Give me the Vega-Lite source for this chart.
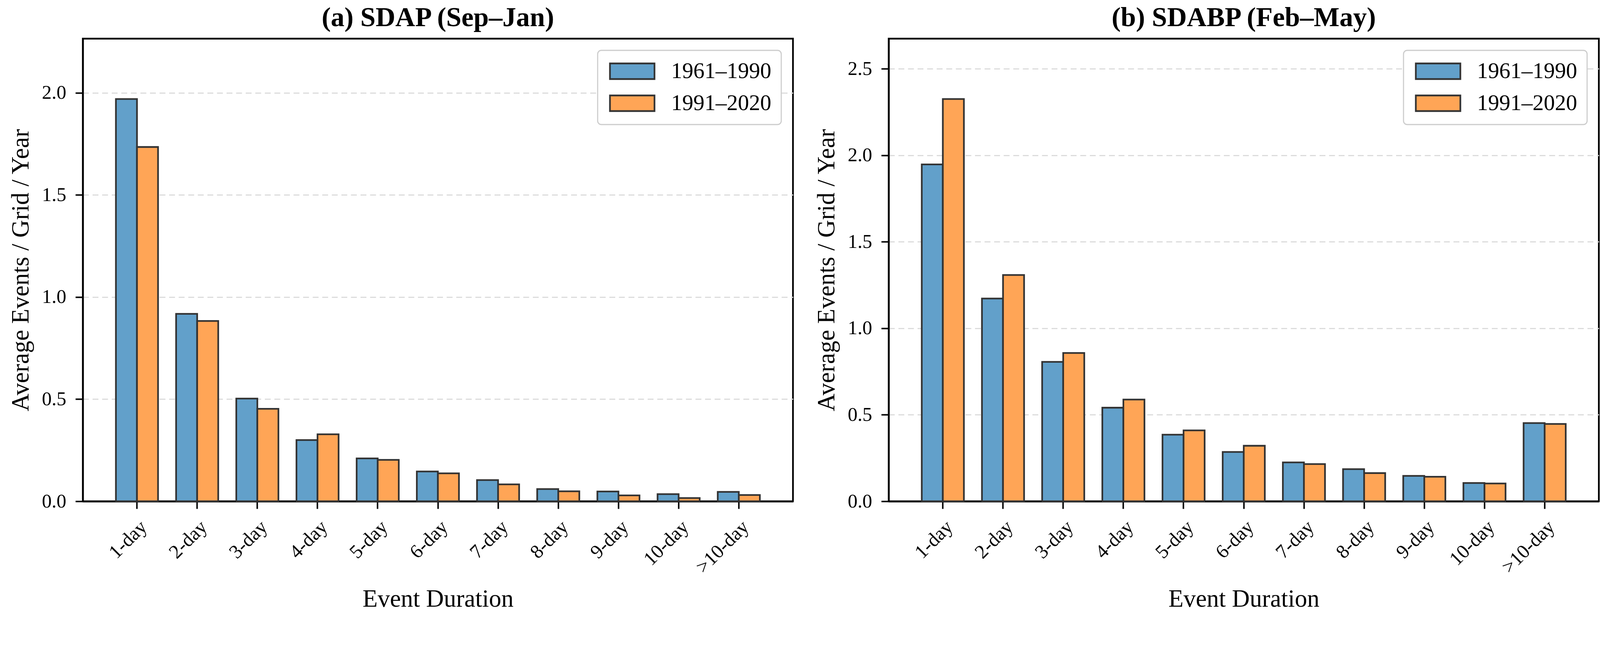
{
  "$schema": "https://vega.github.io/schema/vega-lite/v6.json",
  "padding": {"left": 20, "top": 8, "right": 13, "bottom": 10},
  "background": "white",
  "datasets": {
    "sdap": [
      {"duration": "1-day", "period": "1961–1990", "value": 1.970},
      {"duration": "1-day", "period": "1991–2020", "value": 1.735},
      {"duration": "2-day", "period": "1961–1990", "value": 0.918},
      {"duration": "2-day", "period": "1991–2020", "value": 0.883},
      {"duration": "3-day", "period": "1961–1990", "value": 0.503},
      {"duration": "3-day", "period": "1991–2020", "value": 0.453},
      {"duration": "4-day", "period": "1961–1990", "value": 0.300},
      {"duration": "4-day", "period": "1991–2020", "value": 0.328},
      {"duration": "5-day", "period": "1961–1990", "value": 0.210},
      {"duration": "5-day", "period": "1991–2020", "value": 0.203},
      {"duration": "6-day", "period": "1961–1990", "value": 0.146},
      {"duration": "6-day", "period": "1991–2020", "value": 0.137},
      {"duration": "7-day", "period": "1961–1990", "value": 0.104},
      {"duration": "7-day", "period": "1991–2020", "value": 0.083},
      {"duration": "8-day", "period": "1961–1990", "value": 0.060},
      {"duration": "8-day", "period": "1991–2020", "value": 0.049},
      {"duration": "9-day", "period": "1961–1990", "value": 0.048},
      {"duration": "9-day", "period": "1991–2020", "value": 0.029},
      {"duration": "10-day", "period": "1961–1990", "value": 0.035},
      {"duration": "10-day", "period": "1991–2020", "value": 0.016},
      {"duration": ">10-day", "period": "1961–1990", "value": 0.046},
      {"duration": ">10-day", "period": "1991–2020", "value": 0.031}
    ],
    "sdabp": [
      {"duration": "1-day", "period": "1961–1990", "value": 1.947},
      {"duration": "1-day", "period": "1991–2020", "value": 2.325},
      {"duration": "2-day", "period": "1961–1990", "value": 1.172},
      {"duration": "2-day", "period": "1991–2020", "value": 1.308},
      {"duration": "3-day", "period": "1961–1990", "value": 0.806},
      {"duration": "3-day", "period": "1991–2020", "value": 0.857},
      {"duration": "4-day", "period": "1961–1990", "value": 0.541},
      {"duration": "4-day", "period": "1991–2020", "value": 0.588},
      {"duration": "5-day", "period": "1961–1990", "value": 0.385},
      {"duration": "5-day", "period": "1991–2020", "value": 0.410},
      {"duration": "6-day", "period": "1961–1990", "value": 0.285},
      {"duration": "6-day", "period": "1991–2020", "value": 0.321},
      {"duration": "7-day", "period": "1961–1990", "value": 0.225},
      {"duration": "7-day", "period": "1991–2020", "value": 0.215},
      {"duration": "8-day", "period": "1961–1990", "value": 0.186},
      {"duration": "8-day", "period": "1991–2020", "value": 0.163},
      {"duration": "9-day", "period": "1961–1990", "value": 0.147},
      {"duration": "9-day", "period": "1991–2020", "value": 0.142},
      {"duration": "10-day", "period": "1961–1990", "value": 0.106},
      {"duration": "10-day", "period": "1991–2020", "value": 0.103},
      {"duration": ">10-day", "period": "1961–1990", "value": 0.452},
      {"duration": ">10-day", "period": "1991–2020", "value": 0.447}
    ]
  },
  "spacing": 50,
  "config": {
    "font": "Liberation Serif",
    "view": {"stroke": "black", "strokeWidth": 4.3},
    "title": {"font": "Liberation Serif", "fontSize": 70, "fontWeight": "bold", "color": "black", "offset": 17, "anchor": "middle"},
    "axis": {
      "labelFont": "Liberation Serif", "labelFontSize": 50, "labelColor": "black", "labelLimit": 0,
      "titleFont": "Liberation Serif", "titleFontSize": 63, "titleFontWeight": "normal", "titleColor": "black",
      "tickColor": "black", "tickSize": 19, "tickWidth": 3.8,
      "domainColor": "black", "domainWidth": 4.3
    },
    "axisX": {"grid": false, "labelAngle": -45, "labelPadding": 21, "titlePadding": 25.6},
    "axisY": {"grid": true, "gridDash": [15, 9.5], "gridColor": "#dcdcdc", "gridWidth": 2.8, "labelPadding": 23.7, "titlePadding": 21},
    "legend": {
      "labelFont": "Liberation Serif", "labelFontSize": 57, "labelColor": "black", "labelLimit": 0,
      "symbolType": "M-2.85,-1L2.85,-1L2.85,1L-2.85,1Z", "symbolSize": 1600,
      "symbolOffset": 35, "labelOffset": 71,
      "symbolStrokeColor": "#333333", "symbolStrokeWidth": 4.3,
      "strokeColor": "#cccccc", "strokeWidth": 2.8, "fillColor": "white", "cornerRadius": 9.5,
      "padding": 25, "rowPadding": 23, "offset": 30
    }
  },
  "hconcat": [
    {
      "data": {"name": "sdap"},
      "title": "(a) SDAP (Sep–Jan)",
      "width": 1818,
      "height": 1185,
      "mark": {"type": "bar", "stroke": "#333333", "strokeWidth": 4.3},
      "encoding": {
        "x": {"field": "duration", "type": "nominal",
              "sort": ["1-day","2-day","3-day","4-day","5-day","6-day","7-day","8-day","9-day","10-day",">10-day"],
              "scale": {"paddingInner": 0.3, "paddingOuter": 0.55},
              "axis": {"title": "Event Duration"}},
        "xOffset": {"field": "period", "type": "nominal", "sort": ["1961–1990","1991–2020"], "scale": {"paddingInner": 0, "paddingOuter": 0}},
        "y": {"field": "value", "type": "quantitative",
              "scale": {"domain": [0, 2.2655], "nice": false, "zero": true},
              "axis": {"title": "Average Events / Grid / Year", "values": [0, 0.5, 1, 1.5, 2], "format": ".1f"}},
        "color": {"field": "period", "type": "nominal",
                  "scale": {"domain": ["1961–1990","1991–2020"], "range": ["#62a0ca", "#ffa556"]},
                  "legend": {"title": null, "orient": "top-right"}}
      }
    },
    {
      "data": {"name": "sdabp"},
      "title": "(b) SDABP (Feb–May)",
      "width": 1818,
      "height": 1185,
      "mark": {"type": "bar", "stroke": "#333333", "strokeWidth": 4.3},
      "encoding": {
        "x": {"field": "duration", "type": "nominal",
              "sort": ["1-day","2-day","3-day","4-day","5-day","6-day","7-day","8-day","9-day","10-day",">10-day"],
              "scale": {"paddingInner": 0.3, "paddingOuter": 0.55},
              "axis": {"title": "Event Duration"}},
        "xOffset": {"field": "period", "type": "nominal", "sort": ["1961–1990","1991–2020"], "scale": {"paddingInner": 0, "paddingOuter": 0}},
        "y": {"field": "value", "type": "quantitative",
              "scale": {"domain": [0, 2.674], "nice": false, "zero": true},
              "axis": {"title": "Average Events / Grid / Year", "values": [0, 0.5, 1, 1.5, 2, 2.5], "format": ".1f"}},
        "color": {"field": "period", "type": "nominal",
                  "scale": {"domain": ["1961–1990","1991–2020"], "range": ["#62a0ca", "#ffa556"]},
                  "legend": {"title": null, "orient": "top-right"}}
      }
    }
  ],
  "resolve": {"scale": {"color": "independent", "y": "independent"}, "legend": {"color": "independent"}}
}
